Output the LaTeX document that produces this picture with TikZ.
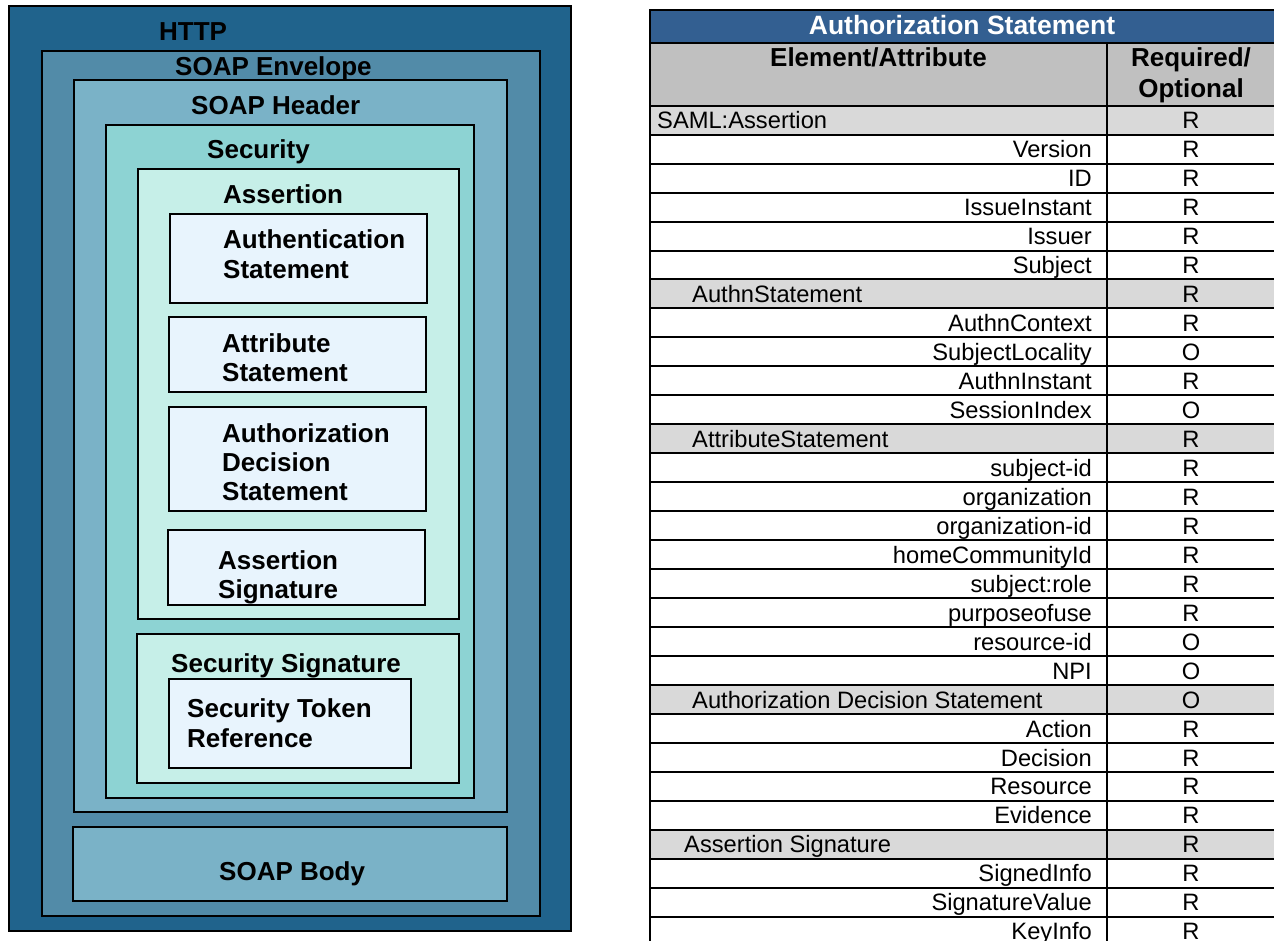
\documentclass[tikz,border=0pt]{standalone}
\usepackage{fontspec}
\setmainfont{Liberation Sans}
\definecolor{httpc}{RGB}{32,99,140}
\definecolor{envc}{RGB}{82,139,168}
\definecolor{hdrc}{RGB}{122,178,199}
\definecolor{secc}{RGB}{141,211,211}
\definecolor{asc}{RGB}{198,239,232}
\definecolor{inc}{RGB}{232,244,253}
\definecolor{titlec}{RGB}{51,95,145}
\definecolor{headc}{RGB}{192,192,192}
\definecolor{grpc}{RGB}{217,217,217}
\tikzset{
  boxline/.style={draw=black,line width=2pt},
  lbl/.style={inner sep=0pt,anchor=base west,font=\fontsize{26}{29}\selectfont\bfseries},
  tline/.style={draw=black,line width=2pt},
  tbody/.style={inner sep=0pt,font=\fontsize{23.7}{27}\selectfont},
  thead/.style={inner sep=0pt,anchor=base,font=\fontsize{26}{29}\selectfont\bfseries},
}
\begin{document}
\begin{tikzpicture}[x=1pt,y=-1pt]
\useasboundingbox (0,0) rectangle (1274,940);
% ---------- left diagram ----------
\path[boxline,fill=httpc] (9,6) rectangle (571,931);
\path[boxline,fill=envc] (42,51) rectangle (540,916);
\path[boxline,fill=hdrc] (74,80) rectangle (507,812);
\path[boxline,fill=secc] (106,125) rectangle (474,798);
\path[boxline,fill=asc] (138,169) rectangle (459,619);
\path[boxline,fill=inc] (170,214) rectangle (427,303);
\path[boxline,fill=inc] (169,317) rectangle (426,392);
\path[boxline,fill=inc] (169,407) rectangle (426,511);
\path[boxline,fill=inc] (168,530) rectangle (425,605);
\path[boxline,fill=asc] (137,634) rectangle (459,783);
\path[boxline,fill=inc] (169,679) rectangle (411,768);
\path[boxline,fill=hdrc] (73,827) rectangle (507,901);

\node[lbl] (http) at (159,40) {HTTP};
\node[lbl] (env) at (175,75) {SOAP Envelope};
\node[lbl] (hdr) at (191,114) {SOAP Header};
\node[lbl] (sec) at (207,158) {Security};
\node[lbl] (ass) at (223,203) {Assertion};
\node[lbl] (authn1) at (223,248) {Authentication};
\node[lbl] (authn2) at (223,278) {Statement};
\node[lbl] (attr1) at (222,352) {Attribute};
\node[lbl] (attr2) at (222,381) {Statement};
\node[lbl] (authz1) at (222,442) {Authorization};
\node[lbl] (authz2) at (222,471) {Decision};
\node[lbl] (authz3) at (222,500) {Statement};
\node[lbl] (asig1) at (218,569) {Assertion};
\node[lbl] (asig2) at (218,598) {Signature};
\node[lbl] (ssig) at (171,672) {Security Signature};
\node[lbl] (str1) at (187,717) {Security Token};
\node[lbl] (str2) at (187,747) {Reference};
\node[lbl] (body) at (219,880) {SOAP Body};

% ---------- table ----------
\fill[titlec] (650,10) rectangle (1280,43);
\fill[headc] (650,43) rectangle (1280,105.7);
\foreach \i in {0,6,11,20,25}
  \fill[grpc] (650,105.7+28.96*\i) rectangle (1280,105.7+28.96*\i+28.96);
% lines
\draw[tline] (650,10) -- (1280,10);
\draw[tline] (650,43) -- (1280,43);
\draw[tline] (650,105.7) -- (1280,105.7);
\foreach \i in {1,...,28}
  \draw[tline] (650,105.7+28.96*\i) -- (1280,105.7+28.96*\i);
\draw[tline] (650,9) -- (650,945);
\draw[tline] (1107,43) -- (1107,945);
% header texts
\node[inner sep=0pt,anchor=base,text=white,font=\fontsize{26.5}{29}\selectfont\bfseries] (title) at (962,34) {Authorization Statement};
\node[thead] (colA) at (878.5,66) {Element/Attribute};
\node[thead] (colB1) at (1191,66) {Required/};
\node[thead] (colB2) at (1191,97) {Optional};
% group rows
\foreach \i/\x/\t/\v in {0/657/SAML:Assertion/R, 6/692/AuthnStatement/R, 11/692/AttributeStatement/R, 20/692/Authorization Decision Statement/O, 25/684/Assertion Signature/R}{
  \node[tbody,anchor=base west] (g\i) at (\x,105.7+28.96*\i+23.2) {\t};
  \node[tbody,anchor=base] (v\i) at (1191,105.7+28.96*\i+23.2) {\v};
}
% attribute rows
\foreach \i/\t/\v in {1/Version/R, 2/ID/R, 3/IssueInstant/R, 4/Issuer/R, 5/Subject/R,
  7/AuthnContext/R, 8/SubjectLocality/O, 9/AuthnInstant/R, 10/SessionIndex/O,
  12/subject-id/R, 13/organization/R, 14/organization-id/R, 15/homeCommunityId/R,
  16/subject:role/R, 17/purposeofuse/R, 18/resource-id/O, 19/NPI/O,
  21/Action/R, 22/Decision/R, 23/Resource/R, 24/Evidence/R,
  26/SignedInfo/R, 27/SignatureValue/R, 28/KeyInfo/R}{
  \node[tbody,anchor=base east] (a\i) at (1092,105.7+28.96*\i+23.2) {\t};
  \node[tbody,anchor=base] (v\i) at (1191,105.7+28.96*\i+23.2) {\v};
}
\end{tikzpicture}
\end{document}
